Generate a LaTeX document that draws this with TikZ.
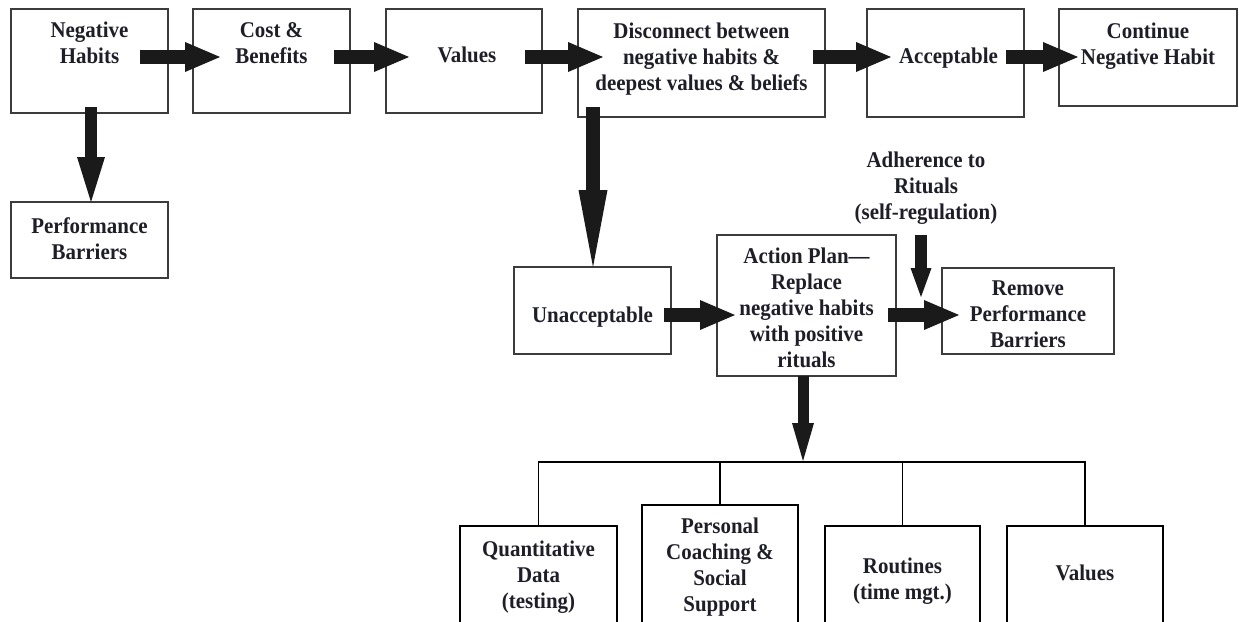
\documentclass[tikz,border=0pt]{standalone}
\usepackage{fontspec}
\newfontfamily\diagfont{Liberation Serif}[FakeStretch=0.93]
\usetikzlibrary{arrows.meta,calc}
\definecolor{ink}{HTML}{1E1E28}
\definecolor{boxline}{HTML}{3C3C3C}
\definecolor{arrowc}{HTML}{1A1A1A}
\begin{document}
\begin{tikzpicture}[x=1pt,y=-1pt,
  box/.style={draw=boxline, line width=1.4pt, inner sep=0pt, outer sep=0pt, anchor=north west},
  lbl/.style={font=\diagfont\bfseries\fontsize{22.5}{26}\selectfont, text=ink, align=center, inner sep=0pt, anchor=north},
  harrow/.style={draw=arrowc, line width=14pt, -{Triangle[length=35pt,width=30pt,line width=0pt]}},
  varrowa/.style={draw=arrowc, line width=12pt, -{Triangle[length=45pt,width=28pt,line width=0pt]}},
  varrowb/.style={draw=arrowc, line width=14pt, -{Triangle[length=77pt,width=29pt,line width=0pt]}},
  varrowc/.style={draw=arrowc, line width=11pt, -{Triangle[length=38pt,width=22pt,line width=0pt]}},
  varrowd/.style={draw=arrowc, line width=12pt, -{Triangle[length=29pt,width=21pt,line width=0pt]}},
  tree/.style={draw=black, line width=1.3pt}
]
\useasboundingbox (0,0) rectangle (1239,621);
\fill[white] (0,0) rectangle (1239,621);
\clip (0,0) rectangle (1239,621);

% boxes
\node[box, minimum width=157pt, minimum height=104pt] (nh) at (11,9) {};
\node[box, minimum width=157pt, minimum height=104pt] (cb) at (193,9) {};
\node[box, minimum width=156pt, minimum height=104pt] (val) at (386,9) {};
\node[box, minimum width=247pt, minimum height=108pt] (disc) at (578,9) {};
\node[box, minimum width=157pt, minimum height=108pt] (acc) at (867,9) {};
\node[box, minimum width=178pt, minimum height=97pt] (cont) at (1059,9) {};
\node[box, minimum width=157pt, minimum height=76pt] (pb) at (11,202) {};
\node[box, minimum width=157pt, minimum height=87pt] (unacc) at (514,267) {};
\node[box, minimum width=179pt, minimum height=141pt] (ap) at (717,235) {};
\node[box, minimum width=172pt, minimum height=86pt] (rem) at (942,268) {};
\node[box, draw=black, line width=1.3pt, minimum width=157pt, minimum height=160pt] (qd) at (460,526) {};
\node[box, draw=black, line width=1.3pt, minimum width=156pt, minimum height=180pt] (pc) at (642,505) {};
\node[box, draw=black, line width=1.3pt, minimum width=155pt, minimum height=160pt] (rt) at (825,526) {};
\node[box, draw=black, line width=1.3pt, minimum width=156pt, minimum height=160pt] (val2) at (1007,526) {};

% texts
\node[lbl] (nht) at ([yshift=-13pt]nh.north) {Negative\\Habits};
\node[lbl] (cbt) at ([yshift=-13pt]cb.north) {Cost \&\\Benefits};
\node[lbl] (valt) at ([xshift=3pt,yshift=-38pt]val.north) {Values};
\node[lbl] (disct) at ([yshift=-14pt]disc.north) {Disconnect between\\negative habits \&\\deepest values \& beliefs};
\node[lbl] (acct) at ([xshift=3pt,yshift=-39pt]acc.north) {Acceptable};
\node[lbl] (contt) at ([yshift=-14pt]cont.north) {Continue\\Negative Habit};
\node[lbl] (pbt) at ([yshift=-15pt]pb.north) {Performance\\Barriers};
\node[lbl] (adh) at (926,152) {Adherence to\\Rituals\\(self-regulation)};
\node[lbl] (unacct) at ([yshift=-40pt]unacc.north) {Unacceptable};
\node[lbl] (apt) at ([yshift=-13pt]ap.north) {Action Plan—\\Replace\\negative habits\\with positive\\rituals};
\node[lbl] (remt) at ([yshift=-13pt]rem.north) {Remove\\Performance\\Barriers};
\node[lbl] (qdt) at ([yshift=-15pt]qd.north) {Quantitative\\Data\\(testing)};
\node[lbl] (pct) at ([yshift=-13pt]pc.north) {Personal\\Coaching \&\\Social\\Support};
\node[lbl] (rtt) at ([yshift=-32pt]rt.north) {Routines\\(time mgt.)};
\node[lbl] (val2t) at ([yshift=-39pt]val2.north) {Values};

% row coordinates
\coordinate (r1) at (0,57);
\coordinate (r2) at (0,315);
\coordinate (bar) at (803,462);
\coordinate (adhs) at (921,235);
\coordinate (adht) at (921,297);

% horizontal fat arrows
\draw[harrow] ($(nh.east |- r1)+(-28,0)$) -- ($(cb.west |- r1)+(27,0)$);
\draw[harrow] ($(cb.east |- r1)+(-16,0)$) -- ($(val.west |- r1)+(23,0)$);
\draw[harrow] ($(val.east |- r1)+(-17,0)$) -- ($(disc.west |- r1)+(25,0)$);
\draw[harrow] ($(disc.east |- r1)+(-12,0)$) -- ($(acc.west |- r1)+(24,0)$);
\draw[harrow] ($(acc.east |- r1)+(-18,0)$) -- ($(cont.west |- r1)+(19,0)$);
\draw[harrow] ($(unacc.east |- r2)+(-7,0)$) -- ($(ap.west |- r2)+(18,0)$);
\draw[harrow] ($(ap.east |- r2)+(-8,0)$) -- ($(rem.west |- r2)+(17,0)$);

% vertical fat arrows
\coordinate (nhd) at ($(nh.south)+(1.5,-6)$);
\draw[varrowa] (nhd) -- (nhd |- pb.north);
\coordinate (dd) at ($(disc.south west)+(15,-10)$);
\draw[varrowb] (dd) -- (dd |- unacc.north);
\coordinate (apd) at ($(ap.south)+(-3.5,0)$);
\draw[varrowc] (apd) -- ($(apd |- bar)+(0,-1)$);
\draw[varrowd] (adhs) -- (adht);

% tree
\draw[tree] (qd.north) |- (val2.north |- bar) -- (val2.north);
\draw[tree] (pc.north) -- (pc.north |- bar);
\draw[tree] (rt.north) -- (rt.north |- bar);
\end{tikzpicture}
\end{document}
